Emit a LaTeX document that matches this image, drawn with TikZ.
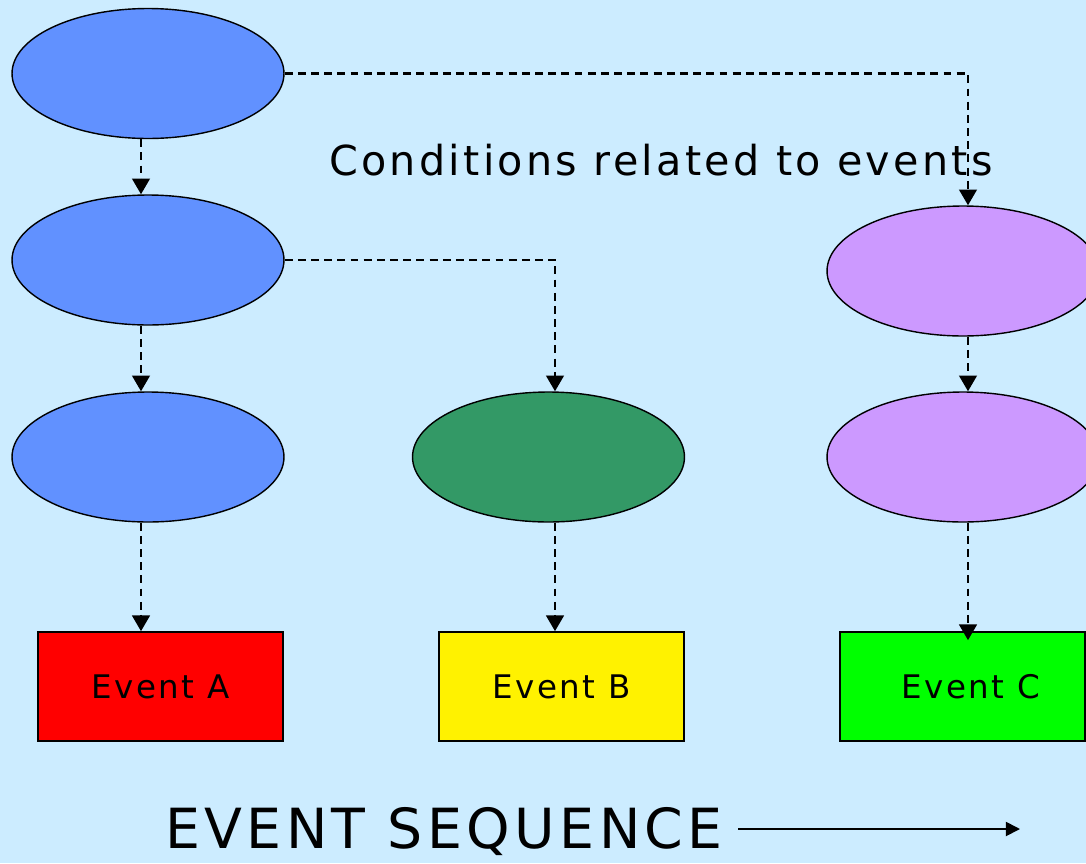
\documentclass[tikz,border=0pt]{standalone}
\usepackage{fontspec}
\newfontfamily\handfont[LetterSpace=8]{DejaVu Sans}
\usetikzlibrary{shapes.geometric,arrows.meta}

\definecolor{sky}{HTML}{CCECFF}
\definecolor{condblue}{HTML}{6191FF}
\definecolor{condgreen}{HTML}{339966}
\definecolor{condlilac}{HTML}{CC99FF}

\tikzset{
  cond/.style={ellipse,draw=black,line width=0.8pt,inner sep=0pt,
    minimum width=5.44cm,minimum height=2.6cm},
  event/.style={rectangle,draw=black,line width=0.9pt,
    minimum width=4.9cm,minimum height=2.18cm,font=\handfont\fontsize{18.5}{19}\selectfont},
  flow/.style={line width=1.6pt,dash pattern=on 4.5pt off 3pt,
    -{Triangle[width=10pt,length=9pt]}}
}

\begin{document}
\begin{tikzpicture}[x=0.02cm,y=-0.02cm]
\fill[sky] (0,0) rectangle (1086,863);
\useasboundingbox (0,0) rectangle (1086,863);
\clip (0,0) rectangle (1086,863);
% columns of the arrows
\coordinate (ca) at (141,0);
\coordinate (cb) at (555,0);
\coordinate (cc) at (968,0);
% conditions
\node[cond,fill=condblue] (e1) at (148,73.5) {};
\node[cond,fill=condblue] (e2) at (148,260) {};
\node[cond,fill=condblue] (e3) at (148,457) {};
\node[cond,fill=condgreen] (g) at (548.5,457) {};
\node[cond,fill=condlilac] (p1) at (963,271) {};
\node[cond,fill=condlilac] (p2) at (963,457) {};
% events
\node[event,fill=red] (ea) at (160.5,686.5) {Event A};
\node[event,fill=yellow] (eb) at (561.5,686.5) {Event B};
\node[event,fill=green] (ec) at (962.5,686.5) {\hspace{0.5em}Event C};
\node[font=\handfont\fontsize{23.5}{24}\selectfont] (lbl) at (661,160) {Conditions related to events};
% dependencies
\draw[flow] (e1.south -| ca) -- (e2.north -| ca);
\draw[flow] (e2.south -| ca) -- (e3.north -| ca);
\draw[flow] (e3.south -| ca) -- (ea.north -| ca);
\draw[flow] (e2.east) -| (g.north -| cb);
\draw[flow] (g.south -| cb) -- (eb.north -| cb);
\draw[flow] (e1.east) -| (p1.north -| cc);
\draw[flow] (p1.south -| cc) -- (p2.north -| cc);
\draw[flow,shorten >=-0.18cm] (p2.south -| cc) -- (ec.north -| cc);
% time axis
\node[font=\handfont\fontsize{31.5}{32}\selectfont,inner sep=0pt] (seq) at (444,832) {EVENT SEQUENCE};
\coordinate (seqend) at (1020,829);
\draw[line width=1pt,-{Triangle[width=8pt,length=8pt]}] ([xshift=0.3cm]seq.east |- seqend) -- (seqend);
\end{tikzpicture}
\end{document}
